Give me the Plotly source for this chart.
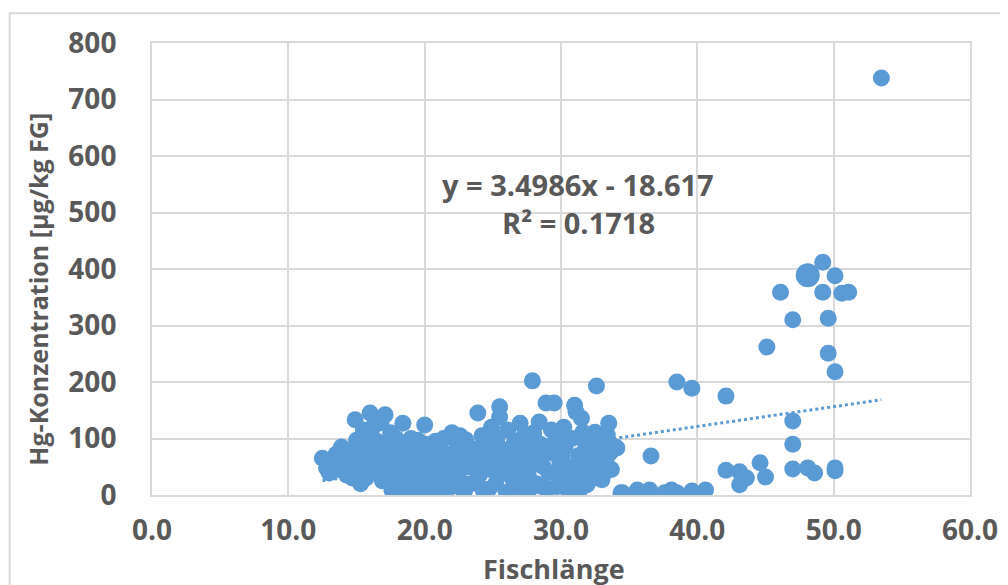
import plotly.graph_objects as go

# Fish length (cm) and Hg concentration (µg/kg FG)
length_a = [12.5, 12.8, 13.0, 13.2, 13.5, 13.7, 13.9, 14.0, 14.2, 14.4, 14.6, 14.7, 14.9, 15.0]
hg_a = [65, 48, 39, 58, 72, 45, 85, 62, 78, 50, 68, 30, 133, 97]

length_b = [15.1, 15.2, 15.4, 15.5, 15.7, 15.8, 16.0, 16.0, 16.2, 16.3, 16.5, 16.6, 16.8, 16.9,
            17.1, 17.2, 17.3, 17.5, 17.6, 17.7, 17.8, 17.9, 18.0]
hg_b = [40, 75, 55, 115, 30, 88, 145, 60, 120, 42, 95, 70, 128, 25,
        142, 82, 55, 110, 9, 38, 70, 100, 18]

length_c = [18.1, 18.2, 18.3, 18.4, 18.5, 18.6, 18.7, 18.8, 19.0, 19.1, 19.2, 19.3, 19.5, 19.5,
            19.6, 19.8, 19.9, 20.0]
hg_c = [60, 90, 5, 127, 4, 45, 75, 30, 100, 12, 62, 40, 97, 8, 80, 25, 55, 124]

length_d = [20.2, 20.3, 20.5, 20.6, 20.8, 21.0, 21.1, 21.3, 21.4, 21.6, 21.8, 22.0, 22.0, 22.2,
            22.4, 22.5, 22.7, 22.9, 23.0, 23.2, 23.4, 23.5, 23.7, 23.9, 24.0, 24.2, 24.3, 24.5,
            24.6, 24.8, 24.9]
hg_d = [40, 85, 10, 65, 95, 28, 55, 8, 100, 72, 40, 110, 15, 60,
        90, 30, 75, 5, 98, 50, 20, 82, 60, 145, 35, 105, 8, 70,
        95, 45, 120]

length_e = [25.0, 25.2, 25.3, 25.5, 25.5, 25.6, 25.8, 26.0, 26.1, 26.3, 26.4, 26.6, 26.8, 27.0,
            27.0, 27.2, 27.3, 27.5, 27.6, 27.8, 27.9, 28.0, 28.2, 28.4, 28.5, 28.7, 28.9, 29.0,
            29.2, 29.3, 29.5, 29.6, 29.8, 29.9]
hg_e = [65, 20, 100, 156, 138, 45, 80, 5, 115, 58, 30, 95, 72, 127,
        12, 50, 105, 85, 35, 65, 202, 110, 20, 129, 90, 50, 163, 10,
        75, 115, 163, 40, 95, 60]

length_f = [30.0, 30.2, 30.3, 30.5, 30.6, 30.6, 30.8, 31.0, 31.1, 31.3, 31.5, 31.6, 31.8, 31.9,
            31.9, 32.1, 32.3, 32.5, 32.6, 32.7, 32.8, 33.0, 33.0, 33.2, 33.4, 33.5, 33.6, 34.0, 34.1]
hg_f = [25, 120, 85, 50, 5, 32, 100, 159, 147, 70, 136, 111, 90, 44,
        18, 80, 55, 111, 193, 62, 58, 27, 85, 40, 106, 127, 75, 85, 83]

length_g = [34.4, 34.5, 35.6, 36.5, 36.6, 37.6, 38.1, 38.5, 38.5, 39.6, 39.6, 40.6, 42.1, 42.1,
            43.1, 43.6, 43.1, 44.6, 45.0, 45.1, 46.1, 47.0, 47.0, 47.0, 47.0, 48.1, 48.6, 49.2,
            49.2, 50.1, 49.6, 49.6, 50.1, 50.1, 50.1, 50.6, 51.1, 53.5]
hg_g = [4, 4, 9, 9, 69, 4, 9, 4, 200, 189, 7, 9, 175, 44,
        41, 30, 18, 57, 32, 262, 359, 310, 131, 90, 46, 48, 39, 412,
        359, 388, 313, 251, 218, 48, 43, 357, 359, 738]

length_h = [13.4, 14.3, 15.3, 15.9, 16.4, 17.0, 17.4, 18.0, 18.9, 19.4,
            20.4, 20.9, 21.2, 21.7, 22.3, 22.8, 23.3, 23.8, 24.4, 24.7,
            25.1, 25.4, 25.9, 26.2, 26.7, 27.1, 27.4, 27.7, 28.1, 28.3,
            28.6, 29.1, 29.4, 29.7, 30.1, 30.4, 30.9, 31.2, 31.4, 31.7,
            32.0, 32.4, 32.9, 33.3, 33.7, 26.5, 24.1, 22.6, 21.9, 20.1]
hg_h = [50, 35, 20, 100, 75, 50, 90, 85, 55, 70,
        25, 50, 80, 15, 40, 95, 65, 25, 50, 10,
        90, 35, 55, 80, 20, 95, 40, 10, 55, 75,
        15, 40, 90, 15, 70, 95, 20, 45, 10, 35,
        60, 30, 100, 60, 45, 45, 80, 105, 55, 90]

length_big = [48.1]
hg_big = [389]

trend_slope = 3.4986
trend_intercept = -18.617
x_ticks = [0, 10, 20, 30, 40, 50, 60]
x_ticklabels = ["0.0", "10.0", "20.0", "30.0", "40.0", "50.0", "60.0"]
y_ticks = [0, 100, 200, 300, 400, 500, 600, 700, 800]

length_all = length_a + length_b + length_c + length_d + length_e + length_f + length_h + length_g
hg_all = hg_a + hg_b + hg_c + hg_d + hg_e + hg_f + hg_h + hg_g

BLUE = "#5B9BD5"
TXT = "#595959"
GRID = "#D9D9D9"
FONT = "Open Sans"

fig = go.Figure()

x_min = min(length_all + length_big)
x_max = max(length_all + length_big)
fig.add_trace(go.Scatter(
    x=[x_min, x_max],
    y=[trend_slope * x_min + trend_intercept, trend_slope * x_max + trend_intercept],
    mode="lines", line=dict(color=BLUE, width=3, dash="dot"),
    hoverinfo="skip", showlegend=False))

fig.add_trace(go.Scatter(
    x=length_all, y=hg_all, mode="markers",
    marker=dict(color=BLUE, size=17, line=dict(width=0)),
    showlegend=False))

fig.add_trace(go.Scatter(
    x=length_big, y=hg_big, mode="markers",
    marker=dict(color=BLUE, size=24, line=dict(width=0)),
    showlegend=False))

fig.add_annotation(x=31.25, y=550, xref="x", yref="y", text="y = 3.4986x - 18.617",
                   showarrow=False, font=dict(family=FONT, size=29, color=TXT, weight="bold"))
fig.add_annotation(x=31.25, y=483, xref="x", yref="y", text="R² = 0.1718",
                   showarrow=False, font=dict(family=FONT, size=29, color=TXT, weight="bold"))

# axis titles
fig.add_annotation(x=-0.139, y=0.455, xref="paper", yref="paper", textangle=-90,
                   text="Hg-Konzentration [µg/kg FG]", showarrow=False,
                   xanchor="center", yanchor="middle",
                   font=dict(family=FONT, size=25, color=TXT, weight="bold"))
fig.add_annotation(x=0.491, y=-0.162, xref="paper", yref="paper",
                   text="Fischlänge", showarrow=False,
                   xanchor="center", yanchor="middle",
                   font=dict(family=FONT, size=27, color=TXT, weight="bold"))

fig.add_shape(type="rect", xref="paper", yref="paper", x0=-0.174, x1=1.3, y0=-0.5, y1=1.066,
              line=dict(color=GRID, width=2), fillcolor="rgba(0,0,0,0)", layer="below")

fig.update_layout(
    width=1008, height=585,
    margin=dict(l=144, r=46, t=35, b=98),
    paper_bgcolor="white", plot_bgcolor="white",
    font=dict(family=FONT, color=TXT),
    xaxis=dict(range=[0, 60], tickvals=x_ticks, ticktext=x_ticklabels,
               showgrid=True, gridcolor=GRID, gridwidth=2, zeroline=False,
               showline=True, linecolor=GRID, linewidth=2, mirror=True,
               ticks="", ticklabelstandoff=9, automargin=False,
               tickfont=dict(family=FONT, size=28, color=TXT, weight="bold")),
    yaxis=dict(range=[0, 800], tickvals=y_ticks,
               showgrid=True, gridcolor=GRID, gridwidth=2, zeroline=False,
               showline=True, linecolor=GRID, linewidth=2, mirror=True,
               ticks="", ticklabelstandoff=28, automargin=False,
               tickfont=dict(family=FONT, size=28, color=TXT, weight="bold")),
)

fig.write_html("out.html", config={"displayModeBar": False})
